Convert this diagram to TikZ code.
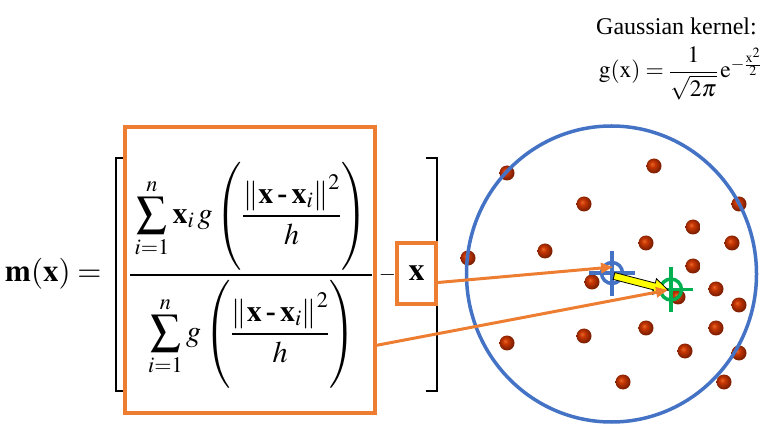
\documentclass[tikz,border=0pt]{standalone}
\usepackage{amsmath}
\usepackage{mathptmx}
\usepackage[no-math]{fontspec}
\setmainfont{Liberation Serif}
\usetikzlibrary{arrows.meta,calc}
\definecolor{orng}{RGB}{237,125,49}
\definecolor{blu}{RGB}{68,114,196}
\definecolor{grn}{RGB}{0,176,80}
\definecolor{yel}{RGB}{255,255,0}
\definecolor{rbA}{RGB}{232,105,40}
\definecolor{rbB}{RGB}{200,55,5}
\definecolor{rbC}{RGB}{125,30,0}
\pgfdeclareradialshading{redball}{\pgfpoint{-7bp}{7bp}}{color(0bp)=(rbA); color(9bp)=(rbB); color(25bp)=(rbC); color(50bp)=(rbC)}
\tikzset{
  obox/.style={draw=orng, line width=3.5pt, inner sep=0pt},
  oarrow/.style={draw=orng, line width=3pt, -{Triangle[length=12pt,width=10pt]}},
  ring/.style={circle, line width=3.5pt, minimum size=21pt, inner sep=0pt},
  hair/.style={line width=3.5pt},
  brk/.style={line width=1.6pt, black},
  fml/.style={inner sep=0pt, font=\fontsize{30}{34}\selectfont}
}
\newcommand{\nrm}{\left\|\rule[-3pt]{0pt}{24pt}\mathbf{x}\mathbin{\textbf{-}}\mathbf{x}_i\right\|^2}
\begin{document}
\begin{tikzpicture}[x=1pt,y=-1pt]
\useasboundingbox (0,0) rectangle (776,435);
% kernel
\node[anchor=base east, inner sep=0pt, font=\fontsize{24}{28}\selectfont] (gk) at (757,35) {Gaussian kernel:};
\node[anchor=base east, inner sep=0pt, font=\fontsize{23.5}{28}\selectfont] (gf) at (762,78) {$\mathrm{g(x)} = \dfrac{1}{\sqrt{2\pi}}\,\mathrm{e}^{-\frac{\mathrm{x}^2}{2}}$};
% left formula
\node[anchor=base west, inner sep=0pt, font=\fontsize{31}{36}\selectfont] (mx) at (5,282) {$\mathbf{m}(\mathbf{x}) =$};
\draw[brk] (123,158) -- (116,158) -- (116,391) -- (123,391);
\draw[brk] (426,158) -- (437,158) -- (437,391) -- (426,391);
\node[fml] (num) at (251,216) {$\displaystyle\sum_{i=1}^{n}\mathbf{x}_i\,g\left(\vcenter{\hbox{\rule{0pt}{100pt}}}\frac{\nrm}{h}\right)$};
\node[fml] (den) at (252,334) {$\displaystyle\sum_{i=1}^{n} g\left(\vcenter{\hbox{\rule{0pt}{100pt}}}\frac{\nrm}{h}\right)$};
\draw[line width=1.3pt] (130,275) -- (372,275);
\node[anchor=base, inner sep=0pt, font=\fontsize{22}{26}\selectfont] (minus) at (387.5,280.5) {$-$};
\node[obox, minimum width=250pt, minimum height=286pt] (bigbox) at (250,270) {};
\node[obox, minimum width=39pt, minimum height=61pt, font=\fontsize{32}{36}\selectfont] (xbox) at (416.5,273.5) {$\mathbf{x}$};
% dots
\foreach \p in {(507,173),(654,166),(584,204),(739,204),(468,258),(545,251),(693,227),(646,243),(732,243),(693,266),(592,282),(678,297),(716,289),(739,305),(507,343),(584,336),(646,328),(716,328),(685,351),(739,353),(623,382),(724,382)}
  \shade[shading=redball] \p circle (7.5pt);
\draw[blu, line width=3.5pt] (611.5,274) ellipse [x radius=145pt, y radius=148pt];
% crosshairs
\node[ring, draw=blu] (mu) at (612,273) {};
\draw[blu, hair] (612,251) -- (612,296);
\draw[blu, hair] (589,273) -- (635,273);
\node[ring, draw=grn] (mnew) at (671,289.5) {};
\draw[grn, hair] (671,267) -- (671,312);
\draw[grn, hair] (652,289.5) -- (693,289.5);
% yellow shift arrow
\coordinate (ya) at (614,276);
\coordinate (yb) at (668,290);
\coordinate (yh) at ($(yb)!14pt!(ya)$);
\filldraw[fill=yel, draw=black, line width=0.8pt, line join=miter]
  ($(ya)!3.5pt!90:(yb)$) -- ($(yh)!3.5pt!-90:(ya)$) -- ($(yh)!8pt!-90:(ya)$) -- (yb)
  -- ($(yh)!8pt!90:(ya)$) -- ($(yh)!3.5pt!90:(ya)$) -- ($(ya)!3.5pt!-90:(yb)$) -- cycle;
% orange connectors
\coordinate (t1) at (613,267);
\coordinate (t2) at (668,290);
\draw[oarrow] ($(xbox.north east)!0.64!(xbox.south east)$) -- (t1);
\draw[oarrow] ($(bigbox.north east)!0.76!(bigbox.south east)$) -- (t2);
\end{tikzpicture}
\end{document}
